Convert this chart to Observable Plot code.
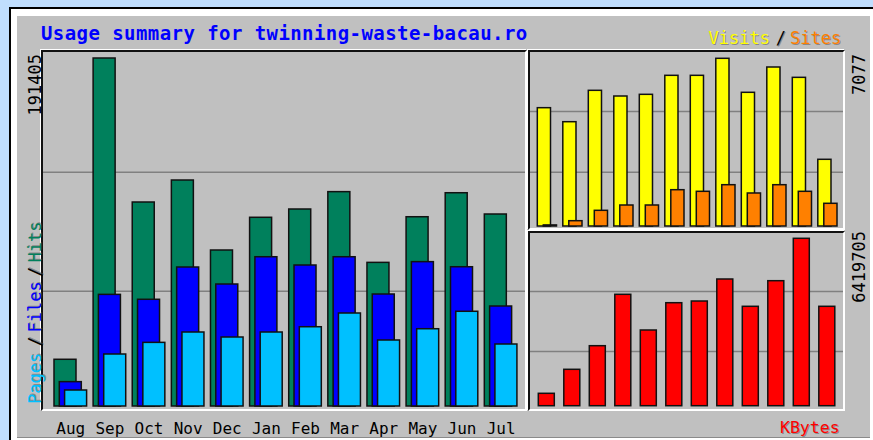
<!DOCTYPE html>
<html><head><meta charset="utf-8">
<script src="https://cdn.jsdelivr.net/npm/d3@7"></script>
<script src="https://cdn.jsdelivr.net/npm/@observablehq/plot@0.6"></script>
<style>
html,body{margin:0;padding:0;}
body{width:873px;height:440px;overflow:hidden;background:#c0defe;position:relative;font-family:"DejaVu Sans Mono",monospace;}
.abs{position:absolute;}
.txt{position:absolute;white-space:nowrap;}
.rot{position:absolute;left:0;top:0;transform-origin:0 0;white-space:nowrap;font-size:17px;line-height:17px;}
.frame{position:absolute;box-sizing:border-box;border-top:2px solid #111;border-left:2px solid #111;border-right:2px solid #fff;border-bottom:2px solid #fff;box-shadow:-1px -1px 0 #fff;}
.plot{position:absolute;}
.sh{text-shadow:1px 1px 0 rgba(90,90,90,0.55);}
</style></head><body>
<div class="abs" style="left:9px;top:7px;width:900px;height:500px;background:#000"></div>
<div class="abs" style="left:11px;top:9px;width:900px;height:500px;background:#fff"></div>
<div class="abs" style="left:17px;top:16px;width:853px;height:421px;background:#c0c0c0;border-bottom:1px solid #8a8a8a"></div>

<div class="frame" style="left:41px;top:50px;width:486px;height:361px"></div>
<div class="frame" style="left:528px;top:50px;width:317px;height:180px"></div>
<div class="frame" style="left:528px;top:231px;width:317px;height:180px"></div>

<div id="mainPlot" class="plot" style="left:41px;top:50px"></div>
<div id="vsPlot" class="plot" style="left:528px;top:50px"></div>
<div id="kbPlot" class="plot" style="left:528px;top:231px"></div>

<div id="texts"></div>

<script>
// ---- data ----
const months = ["Aug","Sep","Oct","Nov","Dec","Jan","Feb","Mar","Apr","May","Jun","Jul"];
const hits   = [25700, 191405, 112200, 124300, 85800, 103800, 108350, 117900, 79000, 104100, 117300, 105600];
const files  = [13400, 61400, 58700, 76450, 67100, 82100, 77550, 82100, 61600, 79400, 76600, 55000];
const pages  = [8800, 28600, 35000, 40700, 37950, 40700, 43600, 51150, 36300, 42500, 52100, 34100];
const visits = [4993, 4402, 5726, 5486, 5557, 6359, 6359, 7077, 5642, 6710, 6274, 2815];
const sites  = [45, 224, 662, 886, 886, 1532, 1464, 1743, 1393, 1743, 1464, 958];
const kbytes = [475500, 1396000, 2301000, 4272000, 2903000, 3950000, 4015000, 4859000, 3812000, 4794000, 6419705, 3812000];
const hitsMax = 191405, visitsMax = 7077, kbytesMax = 6419705;
const mainGrid = [63417, 128866];
const visitsGrid = [2291, 4853];
const kbytesGrid = [2097700, 4398700];
const titleText = "Usage summary for twinning-waste-bacau.ro";

const rows = months.map((m, i) => ({month: m, hits: hits[i], files: files[i], pages: pages[i],
  visits: visits[i], sites: sites[i], kbytes: kbytes[i]}));

function band(start, step, bw, n) {
  const pi = 1 - bw / step;
  return {type: "band", domain: months, range: [start, start + step * (n - pi)],
    paddingInner: pi, paddingOuter: 0, round: false, axis: null};
}
const barStyle = {stroke: "#111", strokeWidth: 1.5};
const gridStyle = {stroke: "#808080", strokeOpacity: 1, strokeWidth: 1.5};
const baseStyle = {background: "transparent", fontFamily: "DejaVu Sans Mono", fontSize: "16px", color: "#000", overflow: "visible"};

const mainPlot = Plot.plot({
  width: 486, height: 390, marginTop: 2, marginLeft: 2, marginRight: 2, marginBottom: 34,
  style: baseStyle,
  x: band(13, 39.12, 22, 12),
  y: {domain: [0, hitsMax], range: [356, 8], axis: null},
  marks: [
    Plot.gridY(mainGrid, gridStyle),
    Plot.barY(rows, {x: "month", y: "hits", fill: "#00805c", ...barStyle}),
    Plot.barY(rows, {x: "month", y: "files", dx: 5.3, fill: "#0000ff", ...barStyle}),
    Plot.barY(rows, {x: "month", y: "pages", dx: 10.6, fill: "#00c0ff", ...barStyle}),
    Plot.axisX({tickSize: 0, tickPadding: 16, dx: 5.3, fontSize: 16, label: null})
  ]
});
document.getElementById("mainPlot").append(mainPlot);

const vsPlot = Plot.plot({
  width: 317, height: 178, margin: 2,
  style: baseStyle,
  x: band(9.3, 25.5, 13.2, 12),
  y: {domain: [0, visitsMax], range: [176, 8.3], axis: null},
  marks: [
    Plot.gridY(visitsGrid, gridStyle),
    Plot.barY(rows, {x: "month", y: "visits", fill: "#ffff00", ...barStyle}),
    Plot.barY(rows, {x: "month", y: "sites", dx: 6, fill: "#ff8000", ...barStyle})
  ]
});
document.getElementById("vsPlot").append(vsPlot);

const kbPlot = Plot.plot({
  width: 317, height: 180, margin: 2,
  style: baseStyle,
  x: band(10.3, 25.5, 16, 12),
  y: {domain: [0, kbytesMax], range: [174.7, 7.3], axis: null},
  marks: [
    Plot.gridY(kbytesGrid, gridStyle),
    Plot.barY(rows, {x: "month", y: "kbytes", fill: "#ff0000", ...barStyle})
  ]
});
document.getElementById("kbPlot").append(kbPlot);

// ---- texts ----
const T = document.getElementById("texts");
function txt(s, css, cls) {
  const d = document.createElement("div");
  d.className = cls || "txt";
  d.textContent = s;
  d.style.cssText = css;
  T.append(d);
}
txt(titleText, "left:41px;top:24px;font-size:19px;line-height:19px;font-weight:bold;letter-spacing:0.43px;color:#0000ff");
txt("Visits", "left:708.5px;top:30px;font-size:17px;line-height:17px;color:#ffff00", "txt sh");
txt("/", "left:775.7px;top:30px;font-size:17px;line-height:17px;color:#000", "txt sh");
txt("Sites", "left:790px;top:30px;font-size:17px;line-height:17px;color:#ff8000", "txt sh");
txt("KBytes", "left:780px;top:420.3px;font-size:16.5px;line-height:16.5px;color:#ff0000", "txt sh");

function rot(s, X, Y, color, extra, cls) {
  txt(s, `transform:translate(${X}px,${Y}px) rotate(-90deg);color:${color};${extra || ""}`, cls || "rot");
}
rot("Pages", 27.2, 404, "#00c0ff", "", "rot sh");
rot("/", 27.2, 346.8, "#000", "", "rot sh");
rot("Files", 27.2, 332.5, "#0000ff", "", "rot sh");
rot("/", 27.2, 277.1, "#000", "", "rot sh");
rot("Hits", 27.2, 262.5, "#00805c", "", "rot sh");
rot(String(hitsMax), 27.2, 154, "#000", "width:100px;text-align:right;");
rot(String(visitsMax), 850.6, 154, "#000", "width:100px;text-align:right;");
rot(String(kbytesMax), 850.6, 331, "#000", "width:100px;text-align:right;");
</script>
</body></html>
